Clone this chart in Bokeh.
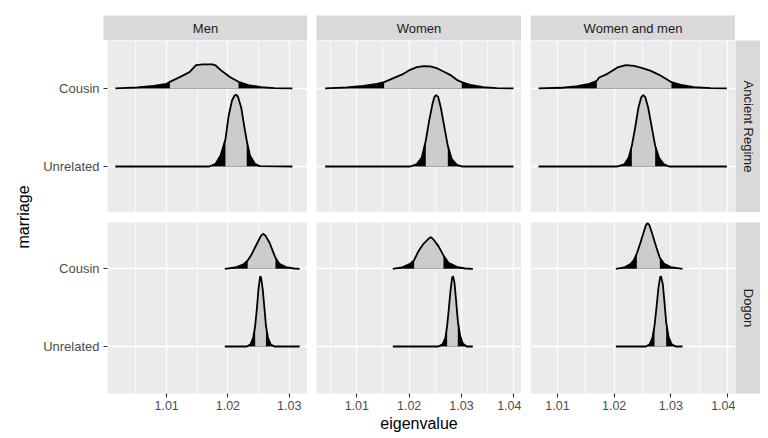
import numpy as np
from bokeh.plotting import figure
from bokeh.models import Range1d, FixedTicker, LinearAxis, Grid, Spacer
from bokeh.layouts import row, column
from bokeh.core.properties import value
from bokeh.embed import file_html
from bokeh.resources import INLINE

# ---------------- data ----------------
sexes = ["Men", "Women", "Women and men"]
populations = ["Ancient Regime", "Dogon"]
marriages = ["Unrelated", "Cousin"]
x_title = "eigenvalue"
y_title = "marriage"

men_ticks = [1.01, 1.02, 1.03]
men_tick_labels = ["1.01", "1.02", "1.03"]
men_minor = [1.005, 1.015, 1.025]
women_ticks = [1.01, 1.02, 1.03, 1.04]
women_tick_labels = ["1.01", "1.02", "1.03", "1.04"]
women_minor = [1.005, 1.015, 1.025, 1.035]

# density curves (x = eigenvalue, h = ridge height), q = inner interval bounds
ar_men_cousin_x = [1.00163, 1.0052, 1.00787, 1.01, 1.01053, 1.01213, 1.01373, 1.0148, 1.01587, 1.01747, 1.0180, 1.01907, 1.0204, 1.02173, 1.02333, 1.02547, 1.0276, 1.03053]
ar_men_cousin_h = [0, 0.013, 0.034, 0.06, 0.085, 0.145, 0.21, 0.30, 0.31, 0.31, 0.295, 0.22, 0.145, 0.085, 0.043, 0.017, 0.004, 0]
ar_men_cousin_q = [1.01053, 1.02173]

ar_men_unrel_x = [1.00163, 1.01693, 1.0180, 1.0188, 1.0196, 1.02013, 1.02067, 1.02109, 1.02131, 1.02163, 1.02216, 1.02269, 1.02307, 1.0236, 1.0244, 1.0252, 1.03053]
ar_men_unrel_h = [0, 0, 0.034, 0.14, 0.35, 0.654, 0.846, 0.91, 0.919, 0.897, 0.76, 0.504, 0.333, 0.14, 0.034, 0.004, 0]
ar_men_unrel_q = [1.0196, 1.02307]

ar_women_cousin_x = [1.00395, 1.00809, 1.01127, 1.01382, 1.01522, 1.01701, 1.01892, 1.02019, 1.02146, 1.02274, 1.02401, 1.02529, 1.02656, 1.02783, 1.02911, 1.03006, 1.03166, 1.0342, 1.03675, 1.03994]
ar_women_cousin_h = [0, 0.013, 0.034, 0.06, 0.081, 0.132, 0.188, 0.239, 0.273, 0.286, 0.282, 0.26, 0.218, 0.175, 0.111, 0.081, 0.047, 0.017, 0.004, 0]
ar_women_cousin_q = [1.01522, 1.03006]

ar_women_unrel_x = [1.00395, 1.02019, 1.02146, 1.02242, 1.02318, 1.02382, 1.02446, 1.02484, 1.02516, 1.02554, 1.02605, 1.02669, 1.02739, 1.02815, 1.02911, 1.03006, 1.03994]
ar_women_unrel_h = [0, 0, 0.03, 0.115, 0.33, 0.585, 0.80, 0.893, 0.915, 0.893, 0.756, 0.521, 0.265, 0.094, 0.021, 0, 0]
ar_women_unrel_q = [1.02318, 1.02739]

ar_both_cousin_x = [1.00665, 1.01059, 1.01353, 1.01559, 1.01694, 1.01735, 1.01882, 1.02059, 1.02206, 1.02353, 1.025, 1.02647, 1.02794, 1.02941, 1.03012, 1.03176, 1.03412, 1.03706, 1.03988]
ar_both_cousin_h = [0, 0.009, 0.03, 0.06, 0.098, 0.141, 0.188, 0.269, 0.299, 0.291, 0.261, 0.226, 0.175, 0.111, 0.081, 0.047, 0.017, 0.004, 0]
ar_both_cousin_q = [1.01694, 1.03012]

ar_both_unrel_x = [1.00665, 1.02059, 1.02176, 1.02253, 1.02312, 1.02371, 1.02429, 1.02476, 1.02512, 1.02547, 1.026, 1.02659, 1.02724, 1.02794, 1.02882, 1.02971, 1.03988]
ar_both_unrel_h = [0, 0, 0.026, 0.107, 0.265, 0.5, 0.756, 0.885, 0.915, 0.893, 0.756, 0.521, 0.265, 0.107, 0.026, 0, 0]
ar_both_unrel_q = [1.02312, 1.02724]

dg_men_cousin_x = [1.01949, 1.0212, 1.02253, 1.02323, 1.02387, 1.02467, 1.02536, 1.02573, 1.02611, 1.0268, 1.02733, 1.02776, 1.0284, 1.02947, 1.0308, 1.03171]
dg_men_cousin_h = [0, 0.017, 0.056, 0.107, 0.185, 0.313, 0.42, 0.45, 0.43, 0.335, 0.227, 0.142, 0.064, 0.021, 0.004, 0]
dg_men_cousin_q = [1.02323, 1.02776]

dg_men_unrel_x = [1.01949, 1.02307, 1.02371, 1.02413, 1.02445, 1.02472, 1.02499, 1.02525, 1.02541, 1.02568, 1.02595, 1.02621, 1.02653, 1.02696, 1.0276, 1.03171]
dg_men_unrel_h = [0, 0, 0.03, 0.116, 0.266, 0.48, 0.738, 0.90, 0.888, 0.738, 0.502, 0.266, 0.116, 0.03, 0, 0]
dg_men_unrel_q = [1.02445, 1.02621]

dg_women_cousin_x = [1.01688, 1.0186, 1.02019, 1.02096, 1.02178, 1.02274, 1.02369, 1.02414, 1.02465, 1.0256, 1.02656, 1.02752, 1.02911, 1.0307, 1.03217]
dg_women_cousin_h = [0, 0.017, 0.064, 0.112, 0.227, 0.322, 0.386, 0.408, 0.378, 0.292, 0.172, 0.077, 0.026, 0.004, 0]
dg_women_cousin_q = [1.02096, 1.02656]

dg_women_unrel_x = [1.01688, 1.0256, 1.02643, 1.02694, 1.02726, 1.02758, 1.0279, 1.02822, 1.02841, 1.02866, 1.02898, 1.0293, 1.02975, 1.03025, 1.03102, 1.03217]
dg_women_unrel_h = [0, 0, 0.03, 0.116, 0.266, 0.48, 0.717, 0.888, 0.90, 0.824, 0.588, 0.33, 0.137, 0.039, 0, 0]
dg_women_unrel_q = [1.02726, 1.0293]

dg_both_cousin_x = [1.0203, 1.02176, 1.02294, 1.02353, 1.024, 1.02459, 1.02518, 1.02559, 1.02588, 1.02624, 1.02676, 1.02747, 1.02806, 1.02882, 1.03, 1.03206]
dg_both_cousin_h = [0, 0.017, 0.064, 0.12, 0.197, 0.326, 0.464, 0.558, 0.592, 0.558, 0.442, 0.27, 0.142, 0.064, 0.021, 0]
dg_both_cousin_q = [1.024, 1.02806]

dg_both_unrel_x = [1.0203, 1.02559, 1.02629, 1.02676, 1.02712, 1.02747, 1.02782, 1.02812, 1.02829, 1.02859, 1.02888, 1.02918, 1.02959, 1.03012, 1.03088, 1.03206]
dg_both_unrel_h = [0, 0, 0.03, 0.116, 0.266, 0.502, 0.76, 0.893, 0.90, 0.80, 0.567, 0.309, 0.129, 0.03, 0, 0]
dg_both_unrel_q = [1.02712, 1.02918]

curves = {
    ("Ancient Regime", "Men", "Cousin"): (ar_men_cousin_x, ar_men_cousin_h, ar_men_cousin_q),
    ("Ancient Regime", "Men", "Unrelated"): (ar_men_unrel_x, ar_men_unrel_h, ar_men_unrel_q),
    ("Ancient Regime", "Women", "Cousin"): (ar_women_cousin_x, ar_women_cousin_h, ar_women_cousin_q),
    ("Ancient Regime", "Women", "Unrelated"): (ar_women_unrel_x, ar_women_unrel_h, ar_women_unrel_q),
    ("Ancient Regime", "Women and men", "Cousin"): (ar_both_cousin_x, ar_both_cousin_h, ar_both_cousin_q),
    ("Ancient Regime", "Women and men", "Unrelated"): (ar_both_unrel_x, ar_both_unrel_h, ar_both_unrel_q),
    ("Dogon", "Men", "Cousin"): (dg_men_cousin_x, dg_men_cousin_h, dg_men_cousin_q),
    ("Dogon", "Men", "Unrelated"): (dg_men_unrel_x, dg_men_unrel_h, dg_men_unrel_q),
    ("Dogon", "Women", "Cousin"): (dg_women_cousin_x, dg_women_cousin_h, dg_women_cousin_q),
    ("Dogon", "Women", "Unrelated"): (dg_women_unrel_x, dg_women_unrel_h, dg_women_unrel_q),
    ("Dogon", "Women and men", "Cousin"): (dg_both_cousin_x, dg_both_cousin_h, dg_both_cousin_q),
    ("Dogon", "Women and men", "Unrelated"): (dg_both_unrel_x, dg_both_unrel_h, dg_both_unrel_q),
}

# ---------------- styling / layout ----------------
FONT = "Liberation Sans"
PANEL_BG = "#EBEBEB"
STRIP_BG = "#D9D9D9"
MID_FILL = "#CCCCCC"

x_limits = {"Men": (1.00035, 1.03299), "Women": (1.0023, 1.04147), "Women and men": (1.00524, 1.04141)}
y_limits = {"Ancient Regime": (0.41, 2.615), "Dogon": (0.395, 2.596)}
x_ticks = {"Men": (men_ticks, men_tick_labels, men_minor),
           "Women": (women_ticks, women_tick_labels, women_minor),
           "Women and men": (women_ticks, women_tick_labels, women_minor)}
y_ticks = [i + 1 for i in range(len(marriages))]

YT_W = 40
YT_X = 23
COL_LEFT = {"Men": 63, "Women": 9, "Women and men": 9}
COL_FRAME = {"Men": 204, "Women": 205, "Women and men": 205}
STRIP_W = 25
TOP_STRIP_H = 25
TOP_PAD = 15
ROW_FRAME = {"Ancient Regime": 172, "Dogon": 171}
ROW_TOP = {"Ancient Regime": 0, "Dogon": 10}
ROW_BOTTOM = {"Ancient Regime": 0, "Dogon": 42}


def base_fig(w, h, xr, yr, left=0, right=0, top=0, bottom=0, bg="white"):
    p = figure(width=w, height=h, x_range=xr, y_range=yr, output_backend="svg",
               toolbar_location=None, tools="", x_axis_location=None, y_axis_location=None,
               title=None, min_border_left=left, min_border_right=right,
               min_border_top=top, min_border_bottom=bottom)
    p.background_fill_color = bg
    p.border_fill_color = "white"
    p.outline_line_color = None
    p.grid.visible = False
    return p


def strip_fig(label, w, h, left=0, top=0, bottom=0, angle=0.0):
    p = base_fig(w, h, Range1d(0, 1), Range1d(0, 1), left=left, top=top, bottom=bottom, bg=STRIP_BG)
    p.text(x=[0.5], y=[0.5], text=[label], angle=angle, text_align="center", text_baseline="middle",
           text_font=value(FONT), text_font_size="13px", text_color="#1A1A1A")
    return p


def panel_fig(pop, sex):
    w = COL_LEFT[sex] + COL_FRAME[sex]
    h = ROW_TOP[pop] + ROW_FRAME[pop] + ROW_BOTTOM[pop]
    p = base_fig(w, h, Range1d(*x_limits[sex]), Range1d(*y_limits[pop]),
                 left=COL_LEFT[sex], top=ROW_TOP[pop], bottom=ROW_BOTTOM[pop], bg=PANEL_BG)
    major, labels, minor = x_ticks[sex]
    p.add_layout(Grid(dimension=0, ticker=FixedTicker(ticks=major, minor_ticks=minor),
                      grid_line_color="white", grid_line_width=1.3,
                      minor_grid_line_color="white", minor_grid_line_width=0.7))
    p.add_layout(Grid(dimension=1, ticker=FixedTicker(ticks=y_ticks),
                      grid_line_color="white", grid_line_width=1.3))
    # ridges: top category first so lower ones overlay
    for m in reversed(marriages):
        base = marriages.index(m) + 1
        xs, hs, q = curves[(pop, sex, m)]
        xs = np.array(xs, dtype=float)
        ys = base + np.array(hs, dtype=float)
        p.patch(xs, ys, fill_color="black", line_color=None)
        mask = (xs >= q[0] - 1e-9) & (xs <= q[1] + 1e-9)
        mx = np.concatenate([[xs[mask][0]], xs[mask], [xs[mask][-1]]])
        my = np.concatenate([[base], ys[mask], [base]])
        p.patch(mx, my, fill_color=MID_FILL, line_color=None)
        p.line(xs, ys, line_color="black", line_width=1.8, line_join="round")
    if sex == sexes[0]:
        ax = LinearAxis(ticker=FixedTicker(ticks=y_ticks),
                        major_label_overrides=dict(zip(y_ticks, marriages)),
                        axis_line_color=None, major_tick_line_color="#333333",
                        major_tick_line_width=1.1, major_tick_out=4, major_tick_in=0,
                        minor_tick_line_color=None, major_label_text_color="#4D4D4D",
                        major_label_text_font=FONT, major_label_text_font_size="13px",
                        major_label_standoff=4)
        p.add_layout(ax, "left")
    if pop == populations[-1]:
        ax = LinearAxis(ticker=FixedTicker(ticks=major),
                        major_label_overrides=dict(zip(major, labels)),
                        axis_line_color=None, major_tick_line_color="#333333",
                        major_tick_line_width=1.1, major_tick_out=4, major_tick_in=0,
                        minor_tick_line_color=None, major_label_text_color="#4D4D4D",
                        major_label_text_font=FONT, major_label_text_font_size="12.5px",
                        major_label_standoff=3)
        if sex == sexes[1]:
            ax.axis_label = x_title
            ax.axis_label_text_font = FONT
            ax.axis_label_text_font_size = "16px"
            ax.axis_label_text_font_style = "normal"
            ax.axis_label_text_color = "black"
            ax.axis_label_standoff = 2
        p.add_layout(ax, "below")
    return p


# top strips
top_items = []
for s in sexes:
    top_items.append(strip_fig(s, COL_LEFT[s] + COL_FRAME[s], TOP_PAD + TOP_STRIP_H,
                               left=COL_LEFT[s], top=TOP_PAD))
top_items.append(Spacer(width=STRIP_W, height=TOP_PAD + TOP_STRIP_H))
rows = [row(top_items, spacing=0)]

for pop in populations:
    items = [panel_fig(pop, s) for s in sexes]
    h = ROW_TOP[pop] + ROW_FRAME[pop] + ROW_BOTTOM[pop]
    items.append(strip_fig(pop, STRIP_W, h, top=ROW_TOP[pop], bottom=ROW_BOTTOM[pop], angle=-np.pi / 2))
    rows.append(row(items, spacing=0))

grid = column(rows, spacing=0)
total_h = TOP_PAD + TOP_STRIP_H + sum(ROW_TOP[p] + ROW_FRAME[p] + ROW_BOTTOM[p] for p in populations)

yt = base_fig(YT_W, total_h, Range1d(0, YT_W), Range1d(0, 1),
              top=TOP_PAD + TOP_STRIP_H, bottom=ROW_BOTTOM[populations[-1]])
yt.text(x=[YT_X], y=[0.5], text=[y_title], angle=np.pi / 2, text_align="center", text_baseline="middle",
        text_font=value(FONT), text_font_size="16px", text_color="black")

layout = row([yt, grid], spacing=0)

open("out.html", "w").write(file_html(layout, INLINE))
